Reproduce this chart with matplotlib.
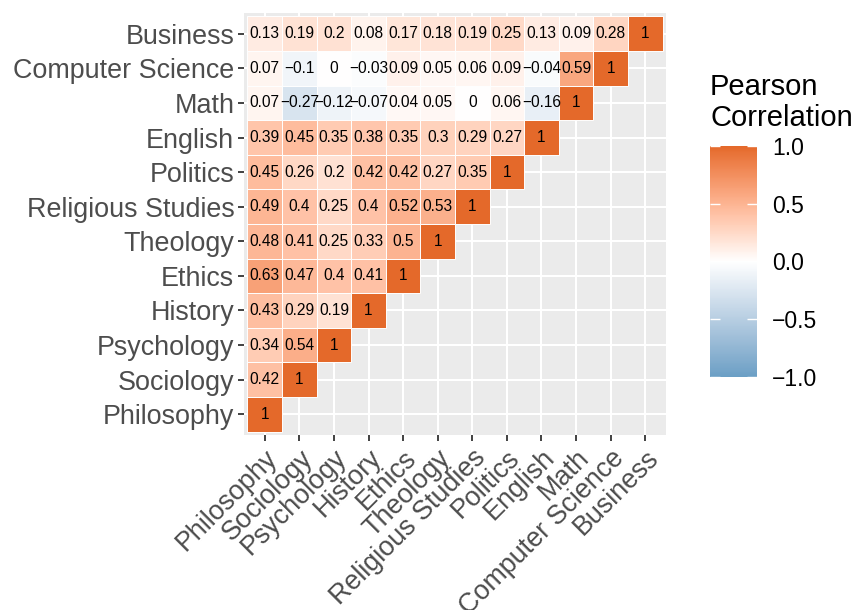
import numpy as np
import matplotlib
matplotlib.use("Agg")
import matplotlib.pyplot as plt
from matplotlib.colors import ListedColormap, Normalize
from matplotlib.cm import ScalarMappable

plt.rcParams['font.family'] = ['Liberation Sans', 'DejaVu Sans']

subjects = ["Philosophy", "Sociology", "Psychology", "History", "Ethics",
            "Theology", "Religious Studies", "Politics", "English", "Math",
            "Computer Science", "Business"]

# lower triangle of the correlation matrix, one row per subject
philosophy = [1]
sociology = [0.42, 1]
psychology = [0.34, 0.54, 1]
history = [0.43, 0.29, 0.19, 1]
ethics = [0.63, 0.47, 0.4, 0.41, 1]
theology = [0.48, 0.41, 0.25, 0.33, 0.5, 1]
religious = [0.49, 0.4, 0.25, 0.4, 0.52, 0.53, 1]
politics = [0.45, 0.26, 0.2, 0.42, 0.42, 0.27, 0.35, 1]
english = [0.39, 0.45, 0.35, 0.38, 0.35, 0.3, 0.29, 0.27, 1]
math_ = [0.07, -0.27, -0.12, -0.07, 0.04, 0.05, 0, 0.06, -0.16, 1]
compsci = [0.07, -0.1, 0, -0.03, 0.09, 0.05, 0.06, 0.09, -0.04, 0.59, 1]
business = [0.13, 0.19, 0.2, 0.08, 0.17, 0.18, 0.19, 0.25, 0.13, 0.09, 0.28, 1]

rows = [philosophy, sociology, psychology, history, ethics, theology,
        religious, politics, english, math_, compsci, business]

low_col, mid_col, high_col = "#6B9FC5", "#FFFFFF", "#E4692A"


# diverging palette interpolated in CIE Lab
WHITE = np.array([0.95047, 1.0, 1.08883])
M = np.array([[0.4124, 0.3576, 0.1805],
              [0.2126, 0.7152, 0.0722],
              [0.0193, 0.1192, 0.9505]])


def hex2rgb(h):
    h = h.lstrip('#')
    return np.array([int(h[i:i + 2], 16) / 255 for i in (0, 2, 4)])


def rgb2lab(c):
    lin = np.where(c <= 0.04045, c / 12.92, ((c + 0.055) / 1.055) ** 2.4)
    xyz = M @ lin / WHITE
    f = np.where(xyz > 0.008856, np.cbrt(xyz), 7.787 * xyz + 16 / 116)
    return np.array([116 * f[1] - 16, 500 * (f[0] - f[1]), 200 * (f[1] - f[2])])


def lab2rgb(lab):
    fy = (lab[0] + 16) / 116
    fx = fy + lab[1] / 500
    fz = fy - lab[2] / 200
    f = np.array([fx, fy, fz])
    xyz = np.where(f ** 3 > 0.008856, f ** 3, (f - 16 / 116) / 7.787) * WHITE
    lin = np.linalg.solve(M, xyz)
    lin = np.clip(lin, 0, 1)
    c = np.where(lin <= 0.0031308, 12.92 * lin, 1.055 * lin ** (1 / 2.4) - 0.055)
    return np.clip(c, 0, 1)


labs = [rgb2lab(hex2rgb(c)) for c in (low_col, mid_col, high_col)]
cols = []
for t in np.linspace(0, 1, 256):
    if t < 0.5:
        s = t / 0.5
        lab = labs[0] * (1 - s) + labs[1] * s
    else:
        s = (t - 0.5) / 0.5
        lab = labs[1] * (1 - s) + labs[2] * s
    cols.append(lab2rgb(lab))
cmap = ListedColormap(cols)
norm = Normalize(-1, 1)

fig = plt.figure(figsize=(8.55, 6.1), dpi=100)
ax = fig.add_axes([244 / 855, 1 - 435 / 610, 422 / 855, 422 / 610])
ax.set_facecolor("#EBEBEB")
ax.set_axisbelow(True)
ax.grid(color="white", linewidth=1.5)

for j, vals in enumerate(rows):
    xs = np.arange(len(vals))
    ax.bar(xs, 1, bottom=j - 0.5, width=1, color=cmap(norm(vals)),
           edgecolor="white", linewidth=0.7)
    for x, v in zip(xs, vals):
        txt = f"{v:g}".replace("-", "\u2212")
        ax.text(x, j, txt, ha="center", va="center", fontsize=11.2, color="black")

ax.set_xlim(-0.6, 11.6)
ax.set_ylim(-0.6, 11.6)
ax.set_xticks(range(len(subjects)))
ax.set_yticks(range(len(subjects)))
ax.set_xticklabels(subjects, rotation=45, ha="right", va="top",
                   rotation_mode="anchor")
ax.set_yticklabels(subjects)
ax.tick_params(colors="#333333", labelcolor="#4D4D4D", labelsize=19.4,
               length=4, width=1.3, pad=3)
for s in ax.spines.values():
    s.set_visible(False)

# legend bar
cax = fig.add_axes([710 / 855, 1 - 377 / 610, 47 / 855, 231 / 610])
cb = fig.colorbar(ScalarMappable(norm=norm, cmap=cmap), cax=cax)
cb.outline.set_visible(False)
cb.set_ticks([-1, -0.5, 0, 0.5, 1])
cb.set_ticklabels(["\u22121.0", "\u22120.5", "0.0", "0.5", "1.0"])
cax.tick_params(direction="in", color="white", length=7, width=1,
                left=True, right=True, labelsize=16.5, pad=11)
fig.text(710 / 855, 1 - 73 / 610, "Pearson\nCorrelation", ha="left", va="top",
         fontsize=21, linespacing=1.12)

fig.savefig("out.png", dpi=100)
